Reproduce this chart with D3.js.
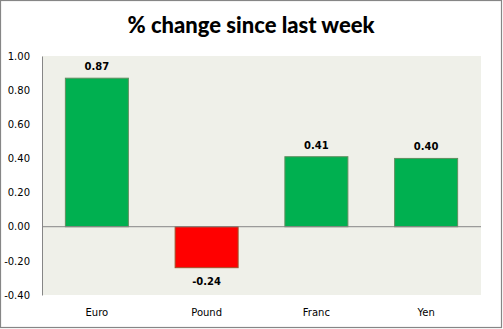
<!DOCTYPE html>
<html><head><meta charset="utf-8">
<script src="https://cdn.jsdelivr.net/npm/d3@7"></script>
<style>html,body{margin:0;padding:0;background:#fff;}svg{display:block;}</style>
</head><body>
<script>
const categories = ["Euro", "Pound", "Franc", "Yen"];
const values = [0.87, -0.24, 0.41, 0.40];
const tickValues = [-0.4, -0.2, 0, 0.2, 0.4, 0.6, 0.8, 1.0];
const title = "% change since last week";

const W = 503, H = 329;
const plot = {left: 42, right: 481, top: 56, bottom: 295};
const fmt = d => d3.format(".2f")(d).replace("\u2212", "-");
const svg = d3.select("body").append("svg").attr("width", W).attr("height", H);

svg.append("rect").attr("x", 0.5).attr("y", 0.5).attr("width", W - 2).attr("height", H - 2)
  .attr("fill", "#fff").attr("stroke", "#868686").attr("stroke-width", 1.2);

svg.append("rect").attr("x", plot.left).attr("y", plot.top)
  .attr("width", plot.right - plot.left).attr("height", plot.bottom - plot.top)
  .attr("fill", "#EFF0E9");

const x = d3.scaleBand().domain(categories).range([plot.left, plot.right])
  .paddingInner(0.426).paddingOuter(0.213);
const y = d3.scaleLinear().domain([-0.4, 1.0]).range([plot.bottom, plot.top]);

svg.append("text").attr("x", 251).attr("y", 33).attr("text-anchor", "middle")
  .attr("font-family", "Lato, 'Open Sans', sans-serif").attr("font-weight", "900")
  .attr("font-size", 22).attr("fill", "#000").text(title);

const yAxis = svg.append("g").attr("transform", `translate(${plot.left},0)`)
  .call(d3.axisLeft(y).tickValues(tickValues).tickFormat(fmt).tickSize(0).tickPadding(12));
yAxis.select(".domain").attr("stroke", "#868686");
yAxis.selectAll("text").attr("font-family", "'DejaVu Sans', Verdana, sans-serif")
  .attr("font-size", 10).attr("fill", "#000");

svg.selectAll("rect.bar").data(values).join("rect").attr("class", "bar")
  .attr("x", (d, i) => x(categories[i]))
  .attr("width", x.bandwidth())
  .attr("y", d => y(Math.max(0, d)))
  .attr("height", d => Math.abs(y(d) - y(0)))
  .attr("fill", d => d >= 0 ? "#00B050" : "#FF0000")
  .attr("stroke", d => d >= 0 ? "#5f8f5f" : "#a0502a")
  .attr("stroke-width", 1);

svg.append("line").attr("x1", plot.left).attr("x2", plot.right)
  .attr("y1", y(0)).attr("y2", y(0)).attr("stroke", "#868686").attr("stroke-width", 1);

svg.selectAll("text.val").data(values).join("text").attr("class", "val")
  .attr("x", (d, i) => x(categories[i]) + x.bandwidth() / 2)
  .attr("y", d => d >= 0 ? y(d) - 8 : y(d) + 17)
  .attr("text-anchor", "middle")
  .attr("font-family", "'DejaVu Sans', Verdana, sans-serif").attr("font-weight", "bold")
  .attr("font-size", 10).attr("fill", "#000")
  .text(d => fmt(d));

svg.selectAll("text.cat").data(categories).join("text").attr("class", "cat")
  .attr("x", d => x(d) + x.bandwidth() / 2).attr("y", 316)
  .attr("text-anchor", "middle")
  .attr("font-family", "'DejaVu Sans', Verdana, sans-serif")
  .attr("font-size", 10).attr("fill", "#000").text(d => d);
</script>
</body></html>
